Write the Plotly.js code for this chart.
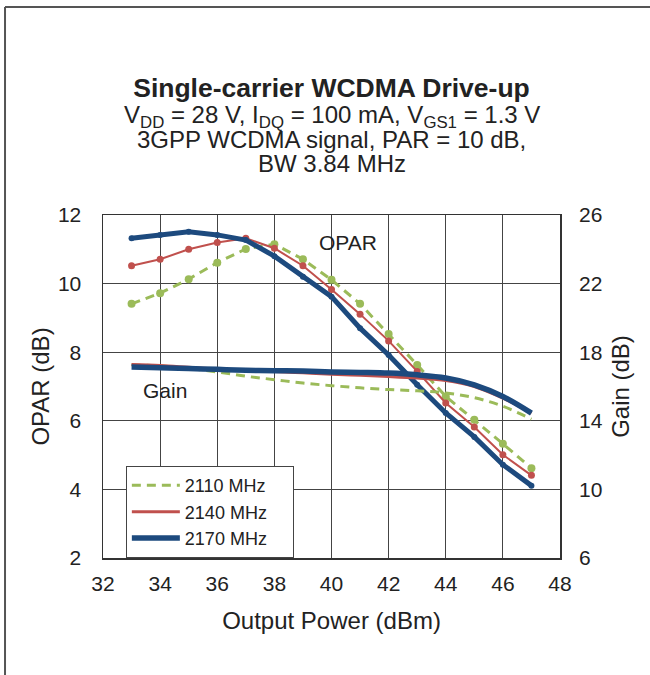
<!DOCTYPE html>
<html>
<head>
<meta charset="utf-8">
<script src="https://cdn.plot.ly/plotly-3.0.1.min.js"></script>
<style>html,body{margin:0;padding:0;background:#fff;}#chart{width:650px;height:675px;}</style>
</head>
<body>
<div id="chart"></div>
<script>
// Output power (dBm)
const pout = [33, 34, 35, 36, 37, 38, 39, 40, 41, 42, 43, 44, 45, 46, 47];
// OPAR (dB) per frequency
const opar2110 = [9.41, 9.72, 10.13, 10.61, 11.01, 11.15, 10.71, 10.11, 9.41, 8.53, 7.63, 6.71, 6.03, 5.33, 4.62];
const opar2140 = [10.52, 10.71, 11.0, 11.2, 11.32, 11.03, 10.52, 9.83, 9.11, 8.33, 7.44, 6.52, 5.82, 5.01, 4.41];
const opar2170 = [11.32, 11.42, 11.51, 11.42, 11.27, 10.8, 10.2, 9.62, 8.7, 7.92, 7.05, 6.23, 5.53, 4.72, 4.11];
// Gain (dB) per frequency
const gain2110 = [17.25, 17.2, 17.05, 16.85, 16.6, 16.4, 16.2, 16.05, 15.92, 15.82, 15.75, 15.62, 15.35, 14.85, 14.1];
const gain2140 = [17.28, 17.22, 17.12, 17.02, 16.95, 16.88, 16.8, 16.72, 16.65, 16.58, 16.49, 16.35, 16.0, 15.32, 14.45];
const gain2170 = [17.13, 17.1, 17.05, 17.0, 16.95, 16.92, 16.9, 16.85, 16.82, 16.78, 16.68, 16.5, 16.1, 15.42, 14.45];
const seriesNames = ['2110 MHz', '2140 MHz', '2170 MHz'];
const xTicks = [32, 34, 36, 38, 40, 42, 44, 46, 48];
const yTicks = [2, 4, 6, 8, 10, 12];
const y2Ticks = [6, 10, 14, 18, 22, 26];
const titleText = 'Single-carrier WCDMA Drive-up';
const subtitleLines = [
  'V<sub>DD</sub> = 28 V, I<sub>DQ</sub> = 100 mA, V<sub>GS1</sub> = 1.3 V',
  '3GPP WCDMA signal, PAR = 10 dB,',
  'BW 3.84 MHz'
];

const cGreen = '#9bbb59', cRed = '#c0504d', cBlue = '#1d4a7e';
const txt = '#222';
const FONT = 'Liberation Sans, Arial, sans-serif';
const pad = '\u00a0\u00a0\u00a0\u00a0';

const traces = [
  {x: pout, y: gain2110, yaxis: 'y2', mode: 'lines', name: seriesNames[0] + pad, legendgroup: 'a',
   line: {color: cGreen, width: 3, dash: '9px,6px', shape: 'spline'}},
  {x: pout, y: gain2140, yaxis: 'y2', mode: 'lines', name: seriesNames[1] + pad, legendgroup: 'b',
   line: {color: cRed, width: 3, shape: 'spline'}},
  {x: pout, y: gain2170, yaxis: 'y2', mode: 'lines', name: seriesNames[2] + pad, legendgroup: 'c',
   line: {color: cBlue, width: 5.5, shape: 'spline'}},
  {x: pout, y: opar2110, mode: 'lines+markers', name: seriesNames[0], legendgroup: 'a', showlegend: false,
   line: {color: cGreen, width: 3, dash: '9px,6px'}, marker: {color: cGreen, size: 8}},
  {x: pout, y: opar2140, mode: 'lines+markers', name: seriesNames[1], legendgroup: 'b', showlegend: false,
   line: {color: cRed, width: 2}, marker: {color: cRed, size: 7}},
  {x: pout, y: opar2170, mode: 'lines+markers', name: seriesNames[2], legendgroup: 'c', showlegend: false,
   line: {color: cBlue, width: 5}, marker: {color: cBlue, size: 6}}
];

const subY = [1.2886, 1.2187, 1.1487];
const annotations = subtitleLines.map((t, i) => ({
  text: t, x: 0.5, y: subY[i], xref: 'paper', yref: 'paper', showarrow: false,
  xanchor: 'center', yanchor: 'middle', font: {size: 24, color: txt}
}));
annotations.push(
  {text: 'OPAR', x: 40.58, y: 11.21, xref: 'x', yref: 'y', showarrow: false,
   font: {size: 21, color: txt}, xanchor: 'center', yanchor: 'middle'},
  {text: 'Gain', x: 34.17, y: 6.87, xref: 'x', yref: 'y', showarrow: false,
   font: {size: 21, color: txt}, xanchor: 'center', yanchor: 'middle'},
  {text: 'c210802fc-g3', x: 46.95, y: 1.8, xref: 'x', yref: 'y', showarrow: false,
   font: {size: 8, color: '#444'}, xanchor: 'center', yanchor: 'middle'}
);

const layout = {
  width: 650, height: 675,
  margin: {l: 103, r: 90, t: 215, b: 117},
  paper_bgcolor: '#fff', plot_bgcolor: '#fff',
  font: {family: FONT, color: txt, size: 21},
  showlegend: true,
  title: {
    text: '<b>' + titleText + '</b>',
    font: {family: FONT, size: 26.5, color: txt},
    x: 0.5, xanchor: 'center', xref: 'paper',
    y: 1 - 88 / 675, yanchor: 'middle', yref: 'container'
  },
  xaxis: {
    range: [32, 48], tickmode: 'array', tickvals: xTicks, ticks: '',
    showgrid: true, gridcolor: '#444', gridwidth: 1.2,
    showline: true, linecolor: '#333', linewidth: 1.5, mirror: true,
    zeroline: false, ticklabelstandoff: 6,
    tickfont: {size: 21, color: txt},
    title: {text: 'Output Power (dBm)', font: {size: 24, color: txt}, standoff: 18}
  },
  yaxis: {
    range: [2, 12], tickmode: 'array', tickvals: yTicks, ticks: '',
    showgrid: true, gridcolor: '#444', gridwidth: 1.2,
    showline: true, linecolor: '#333', linewidth: 1.5, mirror: true,
    zeroline: false, ticklabelstandoff: 16,
    tickfont: {size: 21, color: txt},
    title: {text: 'OPAR (dB)', font: {size: 24, color: txt}, standoff: 1}
  },
  yaxis2: {
    range: [6, 26], tickmode: 'array', tickvals: y2Ticks, ticks: '',
    overlaying: 'y', side: 'right', showgrid: false, zeroline: false,
    ticklabelstandoff: 18,
    tickfont: {size: 21, color: txt},
    title: {text: 'Gain (dB)', font: {size: 24, color: txt}, standoff: 10}
  },
  legend: {
    x: 0.05, y: 0.268, xanchor: 'left', yanchor: 'top',
    bgcolor: '#fff', bordercolor: '#444', borderwidth: 1,
    font: {size: 18, color: txt}, itemwidth: 48, tracegroupgap: 0
  },
  annotations: annotations,
  shapes: [
    {type: 'line', xref: 'paper', yref: 'paper', x0: -0.2144, x1: -0.2144, y0: 1.6064, y1: -0.35,
     line: {color: '#555', width: 2}},
    {type: 'line', xref: 'paper', yref: 'paper', x0: -0.2144, x1: 1.25, y0: 1.6064, y1: 1.6064,
     line: {color: '#555', width: 2}}
  ]
};

Plotly.newPlot('chart', traces, layout, {staticPlot: true, displayModeBar: false});
</script>
</body>
</html>
